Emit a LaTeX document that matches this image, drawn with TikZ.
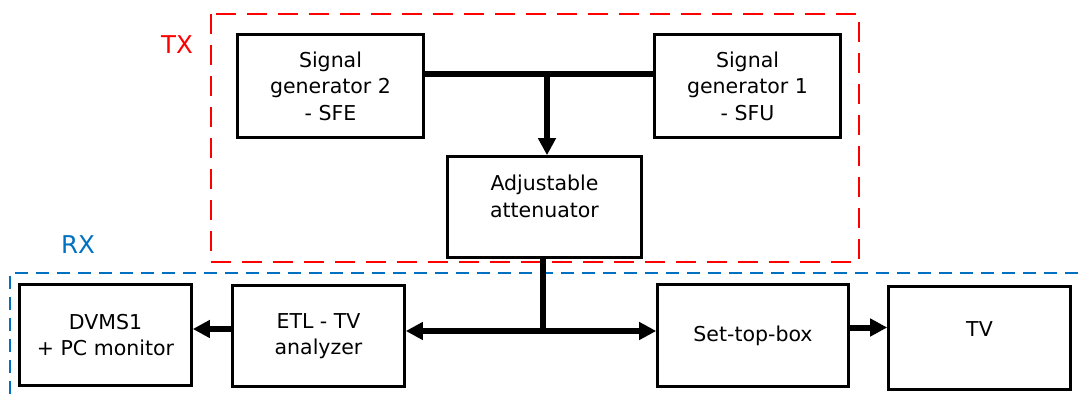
\documentclass[tikz,border=0pt]{standalone}
\usepackage{fontspec}
\setmainfont{DejaVu Sans}
\usetikzlibrary{arrows.meta, positioning}
\definecolor{txred}{RGB}{255,0,0}
\definecolor{rxblue}{RGB}{0,112,192}

\begin{document}
\begin{tikzpicture}[
  x=1pt, y=1pt,
  >={Triangle[length=17pt, width=17pt]},
  box/.style={
    draw, line width=2.6pt, fill=white,
    minimum width=186pt, minimum height=103pt,
    align=center, inner sep=0pt,
    font=\fontsize{20.5}{26.5}\selectfont
  },
  conn/.style={->, line width=6pt},
  bus/.style={line width=6pt},
  zone/.style={line width=2.8pt, dash pattern=on 20pt off 11pt},
  tag/.style={font=\fontsize{24.5}{28}\selectfont}
]
  \useasboundingbox (0,0) rectangle (1079,394);

  % TX side
  \draw[zone, txred] (211,380) rectangle (859,132);
  \node[tag, text=txred] (tx) at (177,349) {TX};
  \node[box] (gen2) at (330.5,308) {Signal\\generator 2\\- SFE};
  \node[box] (gen1) at (747.5,308) {Signal\\generator 1\\- SFU};
  \node[box, minimum width=194pt, minimum height=101pt, text depth=22pt] (att) at (544.5,187) {Adjustable\\attenuator};

  % RX side
  \draw[zone, rxblue, dash pattern=on 13pt off 8pt] (10,0) -- (10,121) -- (1079,121);
  \node[tag, text=rxblue] (rx) at (78,149) {RX};
  \node[box, minimum width=172pt, minimum height=101pt] (dvms) at (105.5,59) {DVMS1\\+ PC monitor};
  \node[box, minimum width=172pt, minimum height=101pt] (etl) at (318.5,58) {ETL - TV\\analyzer};
  \node[box, minimum width=191pt, minimum height=102pt] (stb) at (753,58.5) {Set-top-box};
  \node[box, minimum width=182pt, text depth=18pt] (tv) at (979.5,56) {TV};

  \coordinate (bus) at (547,320);
  \coordinate (jn) at (543,63);
  \draw[bus] (gen2.east |- bus) -- (gen1.west |- bus);
  \draw[conn] (bus) -- (bus |- att.north);
  \draw[bus] (jn |- att.south) -- (jn);
  \draw[conn, <->] (etl.east |- jn) -- (stb.west |- jn);
  \draw[conn] ([yshift=7pt]etl.west) -- ([yshift=7pt]etl.west -| dvms.east);
  \draw[conn] ([yshift=8pt]stb.east) -- ([yshift=8pt]stb.east -| tv.west);
\end{tikzpicture}
\end{document}
